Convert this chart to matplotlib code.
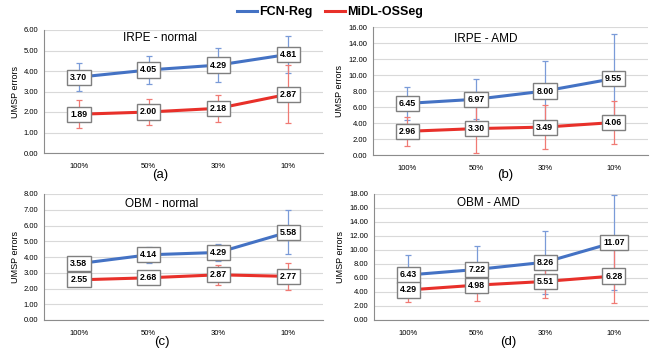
import matplotlib
matplotlib.use("Agg")
import matplotlib.pyplot as plt
from matplotlib.lines import Line2D

plt.rcParams['font.family'] = ['Liberation Sans', 'DejaVu Sans']

categories = ["100%", "50%", "30%", "10%"]
series_names = ["FCN-Reg", "MiDL-OSSeg"]

titles = ["IRPE - normal", "IRPE - AMD", "OBM - normal", "OBM - AMD"]
panel_labels = ["(a)", "(b)", "(c)", "(d)"]

fcn_irpe_normal = [3.70, 4.05, 4.29, 4.81]
fcn_irpe_normal_err = [0.69, 0.70, 0.81, 0.90]
midl_irpe_normal = [1.89, 2.00, 2.18, 2.87]
midl_irpe_normal_err = [0.69, 0.65, 0.65, 1.42]

fcn_irpe_amd = [6.45, 6.97, 8.00, 9.55]
fcn_irpe_amd_err = [2.10, 2.50, 3.80, 5.55]
midl_irpe_amd = [2.96, 3.30, 3.49, 4.06]
midl_irpe_amd_err = [1.85, 3.10, 2.74, 2.65]

fcn_obm_normal = [3.58, 4.14, 4.29, 5.58]
fcn_obm_normal_err = [0.25, 0.50, 0.55, 1.42]
midl_obm_normal = [2.55, 2.68, 2.87, 2.77]
midl_obm_normal_err = [0.25, 0.30, 0.65, 0.87]

fcn_obm_amd = [6.43, 7.22, 8.26, 11.07]
fcn_obm_amd_err = [2.80, 3.30, 4.50, 6.75]
midl_obm_amd = [4.29, 4.98, 5.51, 6.28]
midl_obm_amd_err = [1.70, 2.20, 2.40, 3.80]

ymax = [6, 16, 8, 18]
ystep = [1, 2, 1, 2]

panels = [
    (fcn_irpe_normal, fcn_irpe_normal_err, midl_irpe_normal, midl_irpe_normal_err),
    (fcn_irpe_amd, fcn_irpe_amd_err, midl_irpe_amd, midl_irpe_amd_err),
    (fcn_obm_normal, fcn_obm_normal_err, midl_obm_normal, midl_obm_normal_err),
    (fcn_obm_amd, fcn_obm_amd_err, midl_obm_amd, midl_obm_amd_err),
]

W, H = 651, 350
fig = plt.figure(figsize=(W / 100, H / 100), dpi=100)

# pixel boxes: left, right, top, bottom
boxes = [(44, 323, 30, 153), (373, 648, 27, 155), (44, 323, 194, 320), (374, 648, 194, 320)]
title_pos = [(0.415, 0.935), (0.41, 0.905), (0.42, 0.92), (0.416, 0.93)]
label_px = [(160, 175), (505, 175), (162, 342), (508, 342)]

blue = "#4472C4"
red = "#E8302A"
blue_err = "#7A9BD8"
red_err = "#F07A74"

for i, (ax_box, data) in enumerate(zip(boxes, panels)):
    l, r, t, b = ax_box
    ax = fig.add_axes([l / W, 1 - b / H, (r - l) / W, (b - t) / H])
    fcn, fcn_e, midl, midl_e = data
    x = list(range(len(categories)))
    ax.errorbar(x, fcn, yerr=fcn_e, fmt='none', ecolor=blue_err, elinewidth=0.9,
                capsize=2.5, capthick=0.9, zorder=2)
    ax.errorbar(x, midl, yerr=midl_e, fmt='none', ecolor=red_err, elinewidth=0.9,
                capsize=2.5, capthick=0.9, zorder=2)
    ax.plot(x, fcn, color=blue, lw=2.2, zorder=3)
    ax.plot(x, midl, color=red, lw=2.2, zorder=3)
    for xs, ys in ((x, fcn), (x, midl)):
        for xx, yy in zip(xs, ys):
            ax.text(xx, yy, f"{yy:.2f}", ha='center', va='center', fontsize=6.3,
                    fontweight='bold', zorder=5,
                    bbox=dict(boxstyle='square,pad=0.35', fc='white', ec='#7F7F7F', lw=1.0))
    ax.set_xlim(-0.5, len(categories) - 0.5)
    ax.set_ylim(0, ymax[i])
    ticks = [k * ystep[i] for k in range(int(ymax[i] / ystep[i]) + 1)]
    ax.set_yticks(ticks)
    ax.set_yticklabels([f"{v:.2f}" for v in ticks], fontsize=5.5)
    ax.set_xticks(x)
    ax.set_xticklabels(categories, fontsize=5.5)
    ax.tick_params(axis='both', length=0, pad=4)
    ax.tick_params(axis='x', pad=7)
    ax.grid(axis='y', color='#D9D9D9', lw=0.8)
    ax.set_axisbelow(True)
    for s in ('top', 'right'):
        ax.spines[s].set_visible(False)
    for s in ('left', 'bottom'):
        ax.spines[s].set_color('#8C8C8C')
        ax.spines[s].set_linewidth(0.8)
    ax.set_ylabel("UMSP errors", fontsize=6.5, labelpad=3)
    ax.text(title_pos[i][0], title_pos[i][1], titles[i], transform=ax.transAxes,
            ha='center', va='center', fontsize=8.5)
    fig.text(label_px[i][0] / W, 1 - label_px[i][1] / H, panel_labels[i],
             ha='center', va='center', fontsize=9.5)

handles = [Line2D([0], [0], color=blue, lw=2.2), Line2D([0], [0], color=red, lw=2.2)]
leg = fig.legend(handles, series_names, loc='center', bbox_to_anchor=(330 / W, 1 - 12 / H),
                 ncol=2, frameon=False, prop={'size': 9, 'weight': 'bold'},
                 handlelength=1.6, handletextpad=0.2, columnspacing=1.0)

fig.savefig("out.png", dpi=100)
